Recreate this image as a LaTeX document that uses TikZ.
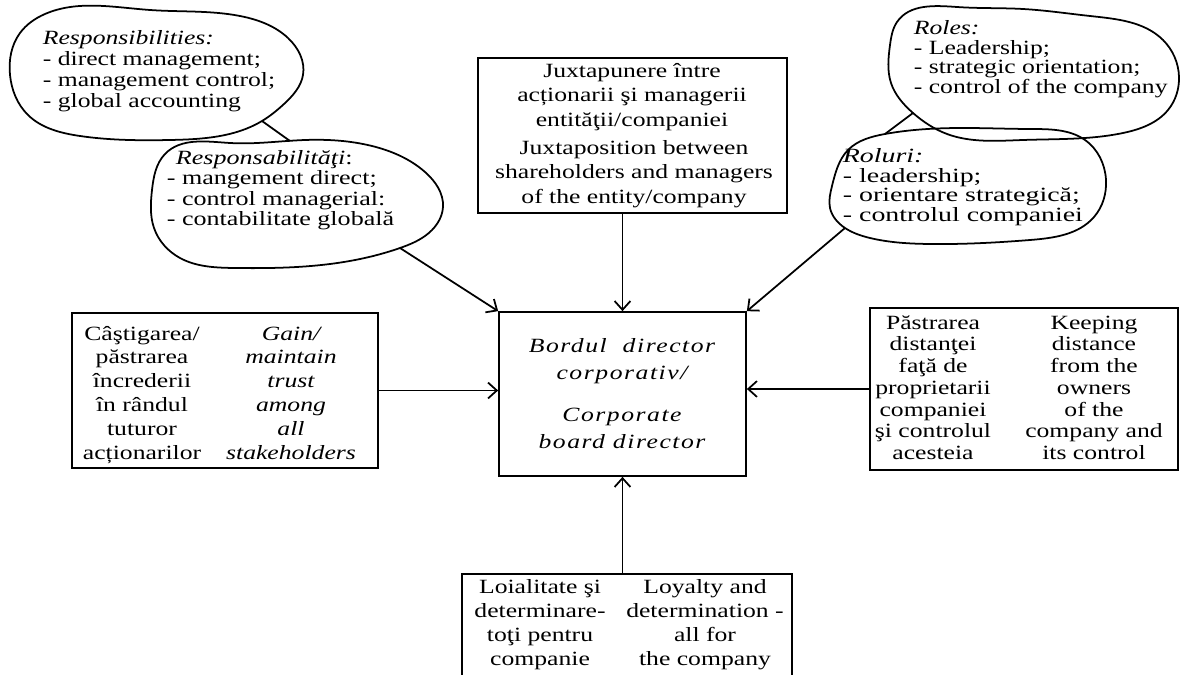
\documentclass[tikz,border=0pt]{standalone}
\usepackage{graphicx}
\usepackage{fontspec}
\setmainfont{Liberation Serif}
\usetikzlibrary{
    arrows.meta,
    hobby,
    positioning
}
% the printed text is wide, so stretch it sideways
\newcommand{\widec}[2][1.27]{\scalebox{#1}[1]{\begin{tabular}{@{}c@{}}#2\end{tabular}}}
\newcommand{\widel}[2][1.27]{\scalebox{#1}[1]{\begin{tabular}{@{}l@{}}#2\end{tabular}}}
\tikzset{
    every picture/.style = {
        > = {Straight Barb[length=5pt, width=9pt]},
        line width = 1pt
    },
    box/.style = {
        draw,
        rectangle,
        inner sep = 0pt
    },
    txt/.style = {
        inner sep = 0pt,
        font = \fontsize{11.5}{13.6}\selectfont
    },
    bubbletxt/.style = {
        inner sep = 0pt,
        anchor = west,
        font = \fontsize{11.5}{12}\selectfont
    },
    bubble/.style = {
        draw,
        use Hobby shortcut,
        closed = true
    }
}

\begin{document}
\begin{tikzpicture}[x = 0.02cm, y = -0.02cm]

    \useasboundingbox (0, 0) rectangle (1182, 675);
    \clip (0, 0) rectangle (1182, 675);

    % boxes
    \node[box, minimum width = 4.94cm, minimum height = 3.28cm] (board) at (622.5, 394) {};
    \node[box, minimum width = 6.18cm, minimum height = 3.1cm] (juxta) at (632.5, 135.5) {};
    \node[box, minimum width = 6.12cm, minimum height = 3.1cm] (gain) at (225, 390.5) {};
    \node[box, minimum width = 6.16cm, minimum height = 3.24cm] (keep) at (1024, 389) {};
    \node[box, minimum width = 6.6cm, minimum height = 2.32cm] (loyal) at (627, 632) {};

    \node[txt, font = \fontsize{11.5}{15.3}\selectfont\itshape\addfontfeature{LetterSpace=6}] (board_txt) at (622, 395) {\widec{Bordul~ director\\ corporativ/\\[8.5pt] Corporate\\ board director}};

    \node[txt, font = \fontsize{11.5}{14}\selectfont] (juxta_ro) at (632, 97) {\widec{Juxtapunere între\\ acționarii şi managerii\\ entităţii/companiei}};
    \node[txt, font = \fontsize{11.5}{14}\selectfont] (juxta_en) at (634, 174) {\widec{Juxtaposition between\\ shareholders and managers\\ of the entity/company}};

    \node[txt] (gain_ro) at (142, 395) {\widec{Câştigarea/\\ păstrarea\\ încrederii\\ în rândul\\ tuturor\\ acționarilor}};
    \node[txt, font = \fontsize{11.5}{13.6}\selectfont\itshape] (gain_en) at (291, 395) {\widec{Gain/\\ maintain\\ trust\\ among\\ all\\ stakeholders}};

    \node[txt, font = \fontsize{11.5}{12.4}\selectfont] (keep_ro) at (933, 390) {\widec{Păstrarea\\ distanţei\\ faţă de\\ proprietarii\\ companiei\\ şi controlul\\ acesteia}};
    \node[txt, font = \fontsize{11.5}{12.4}\selectfont] (keep_en) at (1094, 390) {\widec{Keeping\\ distance\\ from the\\ owners\\ of the\\ company and\\ its control}};

    \node[txt] (loyal_ro) at (540, 625) {\widec{Loialitate şi\\ determinare-\\ toţi pentru\\ companie}};
    \node[txt] (loyal_en) at (705, 625) {\widec{Loyalty and\\ determination -\\ all for\\ the company}};

    % bubbles
    \draw[bubble] (45, 14) .. (150, 10) .. (240, 16) .. (288, 38) .. (303, 75) .. (284, 104) .. (262, 121) .. (170, 140) .. (80, 136) .. (28, 115) .. (10, 75) .. (20, 33);
    \node[bubbletxt] (resp_en) at (42, 72) {\widel{\textit{Responsibilities:}\\ - direct management;\\ - management control;\\ - global accounting}};

    \draw[bubble] (165, 154) .. (230, 143) .. (305, 140) .. (372, 146) .. (425, 172) .. (443, 207) .. (425, 236) .. (400, 248) .. (330, 264) .. (235, 268) .. (180, 258) .. (154, 228) .. (152, 190);
    \node[bubbletxt, font = \fontsize{11.5}{11.4}\selectfont] (resp_ro) at (166, 191) {\widel[1.29]{\hspace{4pt}\textit{Responsabilităţi}:\\ - mangement direct;\\ - control managerial:\\ - contabilitate globală}};

    \draw[bubble] (897, 22) .. (957, 7) .. (1023, 9) .. (1090, 16) .. (1163, 40) .. (1179, 77) .. (1168, 110) .. (1123, 133) .. (1023, 140) .. (947, 134) .. (913, 113) .. (891, 83) .. (890, 45);
    \node[bubbletxt, font = \fontsize{11.5}{11.2}\selectfont] (roles_en) at (913, 60) {\widel{\textit{Roles:}\\ - Leadership;\\ - strategic orientation;\\ - control of the company}};

    \draw[bubble] (832, 186) .. (848, 150) .. (885, 134) .. (960, 128) .. (1030, 129) .. (1085, 140) .. (1106, 180) .. (1094, 217) .. (1030, 240) .. (930, 244) .. (870, 238) .. (845, 228) .. (830, 208);
    \node[bubbletxt, font = \fontsize{11.5}{11.3}\selectfont] (roles_ro) at (842, 188) {\widel[1.38]{\textit{Roluri:}\\ - leadership;\\ - orientare strategică;\\ - controlul companiei}};

    \coordinate (resp_en_tail) at (262, 121);
    \coordinate (resp_ro_top) at (290, 141);
    \coordinate (resp_ro_tail) at (400, 248);
    \coordinate (roles_tail) at (913, 113);
    \coordinate (roluri_top) at (885, 134);
    \coordinate (roluri_tail) at (845, 228);

    % connectors
    \draw (resp_en_tail) -- (resp_ro_top);
    \draw (roles_tail) -- (roluri_top);
    \draw[->] (resp_ro_tail) -- (board.north west);
    \draw[->] (roluri_tail) -- (board.north east);
    \draw[->] (juxta.south -| board.north) -- (board.north);
    \draw[->] (gain.east) -- (gain.east -| board.west);
    \draw[->] (keep.west) -- (keep.west -| board.east);
    \draw[->] (loyal.north -| board.south) -- (board.south);

\end{tikzpicture}
\end{document}
